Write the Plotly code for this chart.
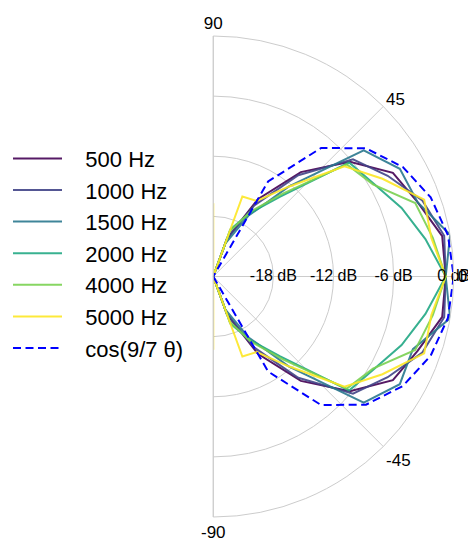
import plotly.graph_objects as go

# Angles (degrees) from -90 to 90
theta = [-90, -80, -70, -60, -50, -40, -30, -20, -10, 0,
         10, 20, 30, 40, 50, 60, 70, 80, 90]

names = ["500 Hz", "1000 Hz", "1500 Hz", "2000 Hz", "4000 Hz", "5000 Hz"]
colors = ["#440154", "#414487", "#2a788e", "#22a884", "#7ad151", "#fde725"]

r_500 = [-24, -24, -20, -15.1, -10.4, -6.2, -3.3, -2.3, -0.8, -0.8,
         -0.8, -2.3, -3.3, -6.2, -10.4, -15.1, -20, -24, -24]
r_1000 = [-24, -24, -20, -15.8, -10.8, -5.8, -3.9, -1.8, -0.6, -0.8,
          -0.6, -1.8, -3.9, -5.8, -10.8, -15.8, -20, -24, -24]
r_1500 = [-24, -24, -20.5, -17, -12.3, -4.4, -2.5, -2.8, 0.0, -0.8,
          0.0, -2.3, -2.5, -4.4, -12.3, -17, -20.5, -24, -24]
r_2000 = [-24, -24, -19, -16.7, -13.6, -6.3, -5.5, -4.0, -2.5, -0.8,
          -2.5, -4.0, -5.5, -6.3, -13.6, -16.7, -19, -24, -24]
r_4000 = [-24, -24, -19.2, -16.5, -13.2, -6.6, -5.6, -2.55, -1.75, -0.8,
          -1.75, -2.55, -5.6, -6.6, -13.2, -16.5, -19.2, -24, -24]
r_5000 = [-16.7, -24, -15.5, -15.3, -12.3, -6.9, -4.5, -1.6, -1.9, -0.8,
          -1.9, -1.6, -4.5, -6.9, -12.3, -15.3, -15.5, -24, -16.7]
r_cos = [None, None, -24, -13.05, -7.25, -4.1, -2.15, -0.91, -0.22, 0.0,
         -0.22, -0.91, -2.15, -4.1, -7.25, -13.05, -24, None, None]

radial_tickvals = [-18, -12, -6, 0]
radial_ticktext = ["-18 dB", "-12 dB", "-6 dB", "0 dB"]
angular_tickvals = [-90, -45, 0, 45, 90]
angular_ticktext = ["-90", "-45", "0", "45", "90"]

series = [r_500, r_1000, r_1500, r_2000, r_4000, r_5000]
pad = "\u00a0\u00a0\u00a0"

fig = go.Figure()
for name, col, rv in zip(names, colors, series):
    fig.add_trace(go.Scatterpolar(
        r=rv, theta=theta, mode="lines", name=pad + name,
        line=dict(color=col, width=2), opacity=0.9,
    ))
fig.add_trace(go.Scatterpolar(
    r=r_cos, theta=theta, mode="lines", name=pad + "cos(9/7 θ)",
    line=dict(color="blue", width=2, dash="8px,4.5px"),
    connectgaps=False,
))
fig.add_trace(go.Scatterpolar(
    r=radial_tickvals, theta=[0] * len(radial_tickvals),
    mode="text", text=radial_ticktext, showlegend=False,
    textfont=dict(size=16, color="black", family="Liberation Sans, Arial"),
    cliponaxis=False, hoverinfo="skip",
))

fig.update_layout(
    width=476, height=540,
    template="none",
    paper_bgcolor="white",
    font=dict(family="Liberation Sans, Arial", size=16, color="black"),
    margin=dict(l=205, r=30, t=28, b=31, autoexpand=False),
    showlegend=True,
    legend=dict(
        xref="container", yref="container",
        x=0.0, y=0.76, xanchor="left", yanchor="top",
        font=dict(size=22, color="black"),
        bgcolor="rgba(0,0,0,0)",
        itemwidth=49,
    ),
    polar=dict(
        bgcolor="white",
        sector=[-90, 90],
        radialaxis=dict(
            range=[-24, 0], tickmode="array", tickvals=radial_tickvals,
            showticklabels=False, ticks="", showline=False,
            gridcolor="#cccccc", gridwidth=1,
        ),
        angularaxis=dict(
            rotation=0, direction="counterclockwise",
            tickmode="array", tickvals=angular_tickvals,
            ticktext=angular_ticktext, ticks="",
            showline=True, linecolor="#cccccc", linewidth=1,
            gridcolor="#cccccc", gridwidth=1,
            tickfont=dict(size=17, color="black"),
        ),
    ),
)

fig.write_html("out.html")
